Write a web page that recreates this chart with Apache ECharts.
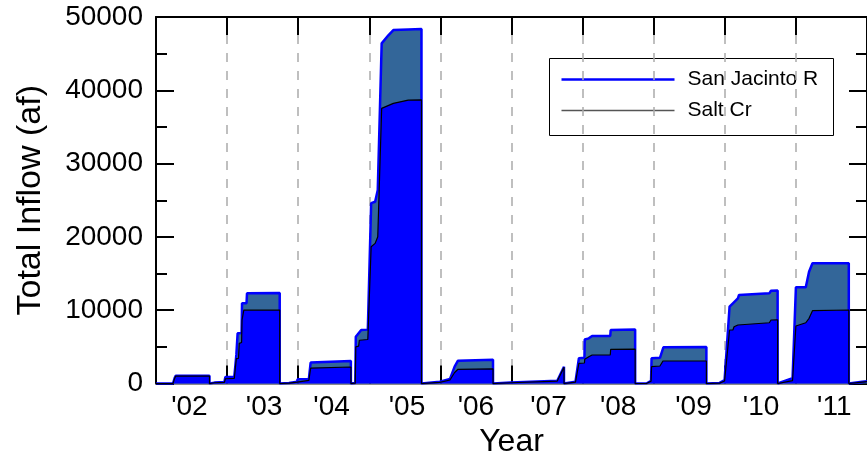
<!DOCTYPE html>
<html>
<head>
<meta charset="utf-8">
<title>Total Inflow</title>
<script src="https://cdn.jsdelivr.net/npm/echarts@6/dist/echarts.min.js"></script>
<style>
  html, body { margin: 0; padding: 0; background: #fff; }
  #chart { width: 867px; height: 467px; }
</style>
</head>
<body>
<div id="chart"></div>
<script>
// Cumulative water-year inflow (acre-feet), [decimal year, af]; resets every Oct 1.
const sanJacintoCum = [
  [2002.000, 0], [2002.239, 0], [2002.262, 700], [2002.277, 1000], [2002.752, 1000], [2002.752, 0],
  [2002.822, 100], [2002.962, 150], [2002.976, 650], [2003.101, 700], [2003.115, 2000], [2003.130, 3400],
  [2003.160, 3440], [2003.171, 5480], [2003.204, 5600], [2003.210, 8660], [2003.227, 8800], [2003.235, 10000],
  [2003.740, 10025], [2003.740, 0],
  [2003.870, 50], [2003.986, 200], [2003.990, 380], [2004.150, 420], [2004.175, 2100], [2004.196, 2210],
  [2004.741, 2250], [2004.741, 0],
  [2004.803, 50], [2004.810, 5000], [2004.850, 5100], [2004.860, 5900], [2004.979, 6000], [2005.026, 18660],
  [2005.082, 19120], [2005.119, 20020], [2005.174, 37540], [2005.338, 38220], [2005.548, 38670],
  [2005.734, 38700], [2005.734, 0],
  [2005.991, 150], [2006.135, 480], [2006.200, 1500], [2006.247, 1940], [2006.740, 2000], [2006.740, 0],
  [2006.992, 100], [2007.644, 330], [2007.738, 2200], [2007.738, 0],
  [2007.900, 200], [2007.948, 2750], [2008.026, 2800], [2008.030, 3300], [2008.087, 3660], [2008.134, 3890],
  [2008.389, 3890], [2008.395, 4660], [2008.739, 4700], [2008.739, 0],
  [2008.903, 30], [2008.963, 300], [2008.970, 2290], [2009.088, 2390], [2009.130, 3070], [2009.741, 3070],
  [2009.741, 0],
  [2009.927, 50], [2009.997, 350], [2010.067, 7300], [2010.114, 7300], [2010.130, 7750], [2010.184, 7980],
  [2010.626, 8290], [2010.650, 8660], [2010.743, 8700], [2010.743, 0],
  [2010.953, 400], [2011.000, 7840], [2011.139, 8290], [2011.185, 8890], [2011.233, 9930], [2011.744, 10025],
  [2011.744, 0], [2011.932, 200], [2012.000, 250]
];

// San Jacinto R + Salt Cr combined cumulative inflow (af)
const combinedCum = [
  [2002.000, 0], [2002.239, 0], [2002.262, 750], [2002.277, 1060], [2002.752, 1060], [2002.752, 0],
  [2002.822, 120], [2002.962, 200], [2002.976, 900], [2003.101, 930], [2003.115, 2290], [2003.130, 3900],
  [2003.148, 6850], [2003.204, 6900], [2003.210, 10940], [2003.273, 10950], [2003.280, 12300],
  [2003.740, 12350], [2003.740, 0],
  [2003.870, 80], [2003.986, 250], [2003.990, 570], [2004.150, 620], [2004.175, 2850], [2004.196, 3000],
  [2004.741, 3070], [2004.741, 0],
  [2004.803, 60], [2004.810, 6380], [2004.886, 7300], [2004.979, 7350], [2005.026, 24600], [2005.082, 24800],
  [2005.119, 26400], [2005.174, 46400], [2005.268, 47500], [2005.338, 48220], [2005.548, 48310],
  [2005.734, 48350], [2005.734, 0],
  [2005.991, 250], [2006.000, 480], [2006.135, 610], [2006.200, 2300], [2006.247, 3110], [2006.740, 3250],
  [2006.740, 0],
  [2006.992, 140], [2007.644, 380], [2007.738, 2290], [2007.738, 0],
  [2007.900, 250], [2007.948, 3440], [2008.026, 3500], [2008.030, 6000], [2008.087, 6160], [2008.134, 6480],
  [2008.389, 6480], [2008.395, 7300], [2008.739, 7350], [2008.739, 0],
  [2008.903, 40], [2008.963, 380], [2008.970, 3440], [2009.088, 3500], [2009.136, 4940], [2009.741, 4980],
  [2009.741, 0],
  [2009.927, 80], [2009.997, 480], [2010.067, 10480], [2010.114, 10940], [2010.184, 11620], [2010.200, 12070],
  [2010.626, 12300], [2010.650, 12660], [2010.743, 12700], [2010.743, 0],
  [2010.953, 710], [2011.000, 13120], [2011.139, 13120], [2011.185, 15250], [2011.233, 16400],
  [2011.744, 16400], [2011.744, 0], [2011.932, 250], [2012.000, 300]
];

// Year tick labels and where they sit along the time axis
const yearLabels = ["'02", "'03", "'04", "'05", "'06", "'07", "'08", "'09", "'10", "'11"];
const yearLabelAt = [2002.47, 2003.52, 2004.47, 2005.53, 2006.50, 2007.52, 2008.50, 2009.56, 2010.51, 2011.54];

const seriesNames = ['San Jacinto R', 'Salt Cr'];

const FONT = "'Liberation Sans', Arial, Helvetica, sans-serif";
const chart = echarts.init(document.getElementById('chart'), null, { renderer: 'canvas' });

const tickStyle = { color: '#000', width: 2 };

chart.setOption({
  animation: false,
  backgroundColor: '#fff',
  textStyle: { fontFamily: FONT },
  grid: { left: 156, top: 17, right: -5, bottom: 83.5, containLabel: false },
  xAxis: [
    {
      type: 'value', position: 'bottom',
      min: 2002, max: 2012, interval: 1,
      name: 'Year', nameLocation: 'middle', nameGap: 40,
      nameTextStyle: { fontSize: 32, color: '#000', fontFamily: FONT },
      axisLine: { show: true, onZero: false, lineStyle: { color: '#666', width: 1.5 } },
      axisTick: { show: true, inside: true, length: 18, lineStyle: tickStyle },
      axisLabel: {
        show: true, margin: 10, fontSize: 28, color: '#000', fontFamily: FONT,
        customValues: yearLabelAt,
        formatter: function (v) {
          const i = yearLabelAt.indexOf(v);
          return i >= 0 ? yearLabels[i] : '';
        }
      },
      splitLine: { show: true, lineStyle: { color: '#aaa', width: 1.5, type: [9, 9] } }
    },
    {
      type: 'value', position: 'top',
      min: 2002, max: 2012, interval: 1,
      axisLine: { show: true, onZero: false, lineStyle: { color: '#000', width: 2 } },
      axisTick: { show: true, inside: true, length: 18, lineStyle: tickStyle },
      axisLabel: { show: false },
      splitLine: { show: false }
    }
  ],
  yAxis: [
    {
      type: 'value', position: 'left',
      min: 0, max: 50000, interval: 10000,
      name: 'Total Inflow (af)', nameLocation: 'middle', nameGap: 108,
      nameTextStyle: { fontSize: 34, color: '#000', fontFamily: FONT },
      axisLine: { show: true, onZero: false, lineStyle: { color: '#000', width: 2 } },
      axisTick: { show: true, inside: true, length: 18, lineStyle: tickStyle },
      minorTick: { show: true, splitNumber: 2, length: 11, lineStyle: tickStyle },
      axisLabel: {
        margin: 13, fontSize: 28, color: '#000', fontFamily: FONT,
        formatter: function (v) { return String(v); }
      },
      splitLine: { show: false }
    },
    {
      type: 'value', position: 'right',
      min: 0, max: 50000, interval: 10000,
      axisLine: { show: true, onZero: false, lineStyle: { color: '#000', width: 2 } },
      axisTick: { show: true, inside: true, length: 18, lineStyle: tickStyle },
      minorTick: { show: true, splitNumber: 2, length: 11, lineStyle: tickStyle },
      axisLabel: { show: false },
      splitLine: { show: false }
    }
  ],
  series: [
    {
      name: seriesNames[1],
      type: 'line',
      data: combinedCum,
      symbol: 'none',
      z: 2,
      lineStyle: { color: '#0000ff', width: 2.5 },
      areaStyle: { color: '#336699', opacity: 1 }
    },
    {
      name: seriesNames[0],
      type: 'line',
      data: sanJacintoCum,
      symbol: 'none',
      z: 3,
      lineStyle: { color: '#000', width: 1.2 },
      areaStyle: { color: '#0000ff', opacity: 1 }
    }
  ],
  graphic: [
    {
      type: 'group', left: 549, top: 58, z: 100,
      children: [
        { type: 'rect', shape: { x: 0, y: 0, width: 284, height: 77 },
          style: { fill: '#fff', stroke: '#000', lineWidth: 1 } },
        { type: 'line', shape: { x1: 12, y1: 21, x2: 125, y2: 21 },
          style: { stroke: '#0000ff', lineWidth: 2.5 } },
        { type: 'text', x: 138, y: 21,
          style: { text: seriesNames[0], font: '21px ' + FONT, fill: '#000', verticalAlign: 'middle' } },
        { type: 'line', shape: { x1: 12, y1: 52, x2: 125, y2: 52 },
          style: { stroke: '#555', lineWidth: 1.5 } },
        { type: 'text', x: 138, y: 52,
          style: { text: seriesNames[1], font: '21px ' + FONT, fill: '#000', verticalAlign: 'middle' } }
      ]
    }
  ]
});
</script>
</body>
</html>
